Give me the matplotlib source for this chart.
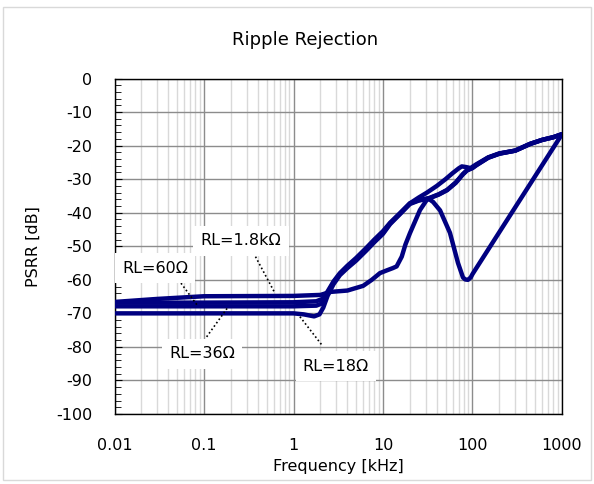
import matplotlib.pyplot as plt
import numpy as np
from matplotlib.patches import Rectangle
from matplotlib.ticker import MultipleLocator, LogLocator, NullFormatter

plt.rcParams['axes.unicode_minus'] = False
plt.rcParams['font.family'] = 'DejaVu Sans'

# PSRR curves, frequency in kHz, rejection in dB
freq_1k8 = [0.01, 0.03, 0.1, 1, 2, 2.6, 4, 6, 7.5, 9.25, 11, 12.9, 14.2, 16.2, 17.8, 20,
            25.9, 30.8, 33, 36.3, 43.4, 56, 68.9, 78.3, 83, 89, 95.5, 100, 1000]
psrr_1k8 = [-66.6, -65.7, -64.9, -64.8, -64.5, -63.6, -63.2, -61.8, -60.0, -58.0, -57.2, -56.5,
            -56.0, -53.1, -49.5, -46.1, -39.2, -36.2, -36.0, -36.8, -39.3, -46.0, -55.0, -59.3,
            -59.9, -60.0, -59.3, -58.3, -16.6]

freq_60 = [0.01, 0.1, 1, 1.8, 2.1, 2.4, 2.8, 3.3, 4, 5, 6.5, 8, 10, 12, 15, 20, 25, 31, 40,
           50, 60, 70, 76, 85, 95, 110, 150, 200, 300, 440, 600, 800, 1000]
psrr_60 = [-66.8, -66.8, -66.7, -66.4, -65.7, -63.5, -60.5, -58.0, -55.8, -53.5, -50.5, -48.0,
           -45.5, -43.0, -40.5, -37.2, -35.5, -34.0, -32.0, -30.0, -28.2, -26.8, -26.2, -26.4,
           -26.7, -25.6, -23.5, -22.3, -21.5, -19.5, -18.3, -17.5, -16.6]

freq_36 = [0.01, 0.1, 1, 1.8, 2.1, 2.4, 2.8, 3.3, 4, 5, 6.5, 8, 10, 12, 15, 20, 25, 33, 42,
           52, 65, 78, 87, 100, 110, 150, 200, 300, 440, 600, 800, 1000]
psrr_36 = [-67.9, -67.9, -67.9, -67.7, -67.0, -64.0, -60.8, -58.3, -56.2, -54.0, -51.0, -48.5,
           -46.0, -43.2, -40.6, -37.2, -36.3, -35.6, -34.5, -33.2, -31.0, -28.5, -27.3, -26.6,
           -25.8, -23.6, -22.4, -21.5, -19.5, -18.3, -17.5, -16.6]

freq_18 = [0.01, 0.1, 1, 1.3, 1.7, 1.95, 2.15, 2.4, 2.8, 3.3, 4, 5, 6.5, 8, 10, 12, 15, 20,
           25, 33, 42, 52, 65, 78, 87, 100, 110, 150, 200, 300, 440, 600, 800, 1000]
psrr_18 = [-70.0, -70.0, -70.0, -70.3, -70.9, -70.3, -68.3, -64.8, -61.3, -58.6, -56.5, -54.3,
           -51.3, -48.8, -46.3, -43.4, -40.8, -37.4, -36.4, -35.7, -34.6, -33.3, -31.1, -28.6,
           -27.4, -26.7, -25.9, -23.6, -22.4, -21.5, -19.5, -18.3, -17.5, -16.6]

xticks = [0.01, 0.1, 1, 10, 100, 1000]
xtick_labels = ['0.01', '0.1', '1', '10', '100', '1000']

# label text, text position (kHz, dB), leader line start and end
labels = [
    ('RL=60Ω', (0.0283, -56.5), (0.0553, -61.0), (0.0836, -67.5)),
    ('RL=1.8kΩ', (0.259, -48.4), (0.376, -53.1), (0.621, -64.0)),
    ('RL=36Ω', (0.095, -82.1), (0.107, -77.0), (0.187, -68.0)),
    ('RL=18Ω', (2.98, -85.7), (1.18, -71.0), (2.07, -79.4)),
]

navy = '#000080'

fig = plt.figure(figsize=(5.94, 4.84), dpi=100)
ax = fig.add_axes([0.1928, 0.1446, 0.7533, 0.6932])

for f, p in [(freq_1k8, psrr_1k8), (freq_60, psrr_60), (freq_36, psrr_36), (freq_18, psrr_18)]:
    ax.plot(f, p, color=navy, lw=3.2, solid_capstyle='round', solid_joinstyle='round', zorder=3)

ax.set_xscale('log')
ax.set_xlim(0.01, 1000)
ax.set_ylim(-100, 0)
ax.set_xticks(xticks)
ax.set_xticklabels(xtick_labels)
ax.xaxis.set_minor_locator(LogLocator(base=10, subs=np.arange(2, 10), numticks=20))
ax.xaxis.set_minor_formatter(NullFormatter())
ax.yaxis.set_major_locator(MultipleLocator(10))
ax.yaxis.set_minor_locator(MultipleLocator(2))

ax.grid(which='major', color='#8c8c8c', lw=1, zorder=0)
ax.grid(which='minor', axis='x', color='#d9d9d9', lw=1, zorder=0)
ax.set_axisbelow(True)

ax.tick_params(axis='x', which='both', length=0, pad=17, labelsize=11.5)
ax.tick_params(axis='y', which='major', direction='in', length=5, pad=16, labelsize=11.5)
ax.tick_params(axis='y', which='minor', direction='in', length=4)
for s in ax.spines.values():
    s.set_color('black')
    s.set_linewidth(1)

ax.set_xlabel('Frequency [kHz]', fontsize=11.5)
ax.xaxis.set_label_coords(0.5, -0.135)
ax.set_ylabel('PSRR [dB]', fontsize=11.5)
ax.yaxis.set_label_coords(-0.165, 0.5)

for text, pos, start, end in labels:
    ax.plot([start[0], end[0]], [start[1], end[1]], color='black', lw=1.2,
            ls=(0, (1, 1.5)), zorder=4)
    ax.text(pos[0], pos[1], text, ha='center', va='center', fontsize=11.5, zorder=5,
            bbox=dict(boxstyle='square,pad=0.45', facecolor='white', edgecolor='none'))

fig.text(305 / 594, 1 - 40 / 484, 'Ripple Rejection', ha='center', va='center', fontsize=13)

fig.add_artist(Rectangle((3 / 594, 1 - 480 / 484), 588 / 594, 473 / 484,
                         transform=fig.transFigure, fill=False, edgecolor='#d9d9d9', lw=1))

fig.savefig('out.png', dpi=100)
